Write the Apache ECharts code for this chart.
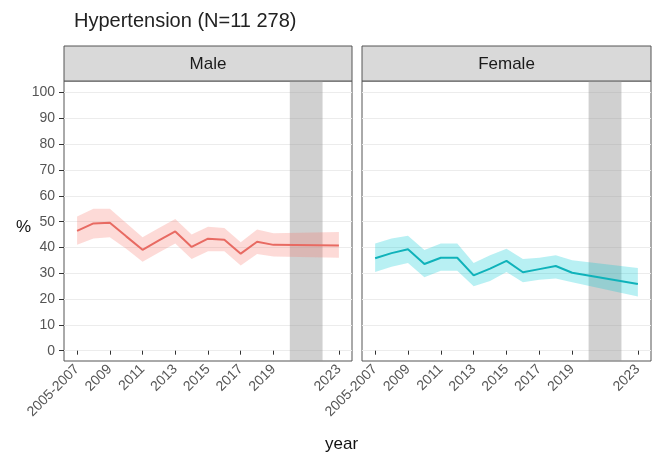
<!DOCTYPE html>
<html>
<head>
<meta charset="utf-8">
<script src="https://cdn.jsdelivr.net/npm/echarts@6/dist/echarts.min.js"></script>
<style>
  html, body { margin: 0; padding: 0; background: #fff; }
  #chart { width: 654px; height: 454px; }
</style>
</head>
<body>
<div id="chart"></div>
<script>
// data
const years = [2007, 2008, 2009, 2010, 2011, 2012, 2013, 2014, 2015, 2016, 2017, 2018, 2019, 2023];
const yearTicks = [2007, 2009, 2011, 2013, 2015, 2017, 2019, 2023];
const yTicks = [0, 10, 20, 30, 40, 50, 60, 70, 80, 90, 100];
const panels = ['Male', 'Female'];

const maleMean = [46.4, 49.3, 49.6, 44.3, 39.1, 42.7, 46.2, 40.2, 43.4, 43.0, 37.6, 42.2, 41.0, 40.8];
const maleLow  = [41.0, 43.5, 44.0, 39.5, 34.5, 38.0, 41.5, 35.5, 38.5, 38.5, 33.0, 37.5, 36.5, 36.0];
const maleHigh = [52.0, 55.0, 55.0, 49.5, 44.0, 47.5, 51.0, 45.0, 48.0, 47.5, 42.0, 47.0, 45.5, 46.0];

const femaleMean = [35.8, 37.8, 39.3, 33.6, 36.0, 36.0, 29.2, 31.8, 34.8, 30.4, 31.6, 32.8, 30.2, 25.8];
const femaleLow  = [30.5, 32.5, 34.0, 28.5, 31.0, 31.0, 25.0, 27.0, 30.5, 26.5, 27.5, 28.0, 26.5, 21.0];
const femaleHigh = [41.5, 43.5, 44.5, 39.0, 41.5, 41.5, 34.0, 37.0, 39.5, 35.5, 36.0, 37.0, 35.0, 32.0];

const covidPeriod = [2020, 2022];

const lineColors = ['#E2665F', '#16AAB0'];
const bandColors = ['rgba(248,118,109,0.27)', 'rgba(0,200,212,0.28)'];
const FONT = "'Liberation Sans', Arial, sans-serif";

function pairs(vals) {
  return years.map((y, i) => [y, vals[i]]);
}

const chart = echarts.init(document.getElementById('chart'));

const gridBox = [
  { left: 64, top: 81, width: 288, height: 280 },
  { left: 362, top: 81, width: 289, height: 280 }
];

const grids = gridBox.map(g => ({
  ...g,
  show: true,
  backgroundColor: '#fff',
  borderColor: '#555',
  borderWidth: 1
}));

const xAxes = gridBox.map((g, i) => ({
  type: 'value',
  gridIndex: i,
  min: 2006.2,
  max: 2023.8,
  axisLine: { show: false },
  splitLine: { show: false },
  axisTick: { show: true, length: 4, customValues: yearTicks, lineStyle: { color: '#333' } },
  axisLabel: {
    customValues: yearTicks,
    rotate: 45,
    margin: 6,
    color: '#555',
    fontSize: 14,
    fontFamily: FONT,
    formatter: v => (v === 2007 ? '2005-2007' : String(v))
  }
}));

const yAxes = gridBox.map((g, i) => ({
  type: 'value',
  gridIndex: i,
  min: -4,
  max: 104.5,
  axisLine: { show: false },
  axisTick: { show: i === 0, length: 5, customValues: yTicks, lineStyle: { color: '#333' } },
  axisLabel: {
    show: i === 0,
    customValues: yTicks,
    margin: 9,
    color: '#555',
    fontSize: 14,
    fontFamily: FONT
  },
  splitLine: { show: true, lineStyle: { color: '#ececec', width: 1 } }
}));

const means = [maleMean, femaleMean];
const lows = [maleLow, femaleLow];
const highs = [maleHigh, femaleHigh];

// ribbon: one polygon through the upper bounds and back along the lower bounds
function ribbon(i) {
  return function (params, api) {
    if (params.dataIndex !== 0) return null;
    const top = years.map((y, k) => api.coord([y, highs[i][k]]));
    const bottom = years.map((y, k) => api.coord([y, lows[i][k]])).reverse();
    return {
      type: 'polygon',
      shape: { points: top.concat(bottom) },
      style: { fill: bandColors[i] }
    };
  };
}

const series = [];
panels.forEach((p, i) => {
  series.push({
    name: p,
    type: 'line',
    xAxisIndex: i,
    yAxisIndex: i,
    data: pairs(means[i]),
    showSymbol: false,
    symbol: 'none',
    silent: true,
    lineStyle: { color: lineColors[i], width: 2 },
    z: 2
  });
  series.push({
    type: 'custom',
    xAxisIndex: i,
    yAxisIndex: i,
    data: years.map((y, k) => [y, lows[i][k], highs[i][k]]),
    encode: { x: 0, y: [1, 2] },
    renderItem: ribbon(i),
    silent: true,
    z: 3
  });
  series.push({
    type: 'line',
    xAxisIndex: i,
    yAxisIndex: i,
    data: [],
    silent: true,
    z: 4,
    markArea: {
      silent: true,
      itemStyle: { color: 'rgba(150,150,150,0.45)' },
      data: [[{ xAxis: covidPeriod[0] }, { xAxis: covidPeriod[1] }]]
    }
  });
});

const option = {
  animation: false,
  backgroundColor: '#fff',
  title: [
    { text: 'Hypertension (N=11 278)', left: 69, top: 6,
      textStyle: { fontSize: 20, fontWeight: 'normal', color: '#222', fontFamily: FONT } },
    { text: '%', left: 11, top: 214,
      textStyle: { fontSize: 17, fontWeight: 'normal', color: '#111', fontFamily: FONT } },
    { text: 'year', left: 320, top: 431,
      textStyle: { fontSize: 17, fontWeight: 'normal', color: '#111', fontFamily: FONT } }
  ],
  graphic: gridBox.map((g, i) => ({
    type: 'group',
    children: [
      { type: 'rect', shape: { x: g.left, y: 46, width: g.width, height: 35 },
        style: { fill: '#d9d9d9', stroke: '#555', lineWidth: 1 } },
      { type: 'text', x: g.left + g.width / 2, y: 64,
        style: { text: panels[i], font: '17px ' + FONT, fill: '#1a1a1a',
                 textAlign: 'center', textVerticalAlign: 'middle' } }
    ]
  })),
  grid: grids,
  xAxis: xAxes,
  yAxis: yAxes,
  series: series
};

chart.setOption(option);
</script>
</body>
</html>
